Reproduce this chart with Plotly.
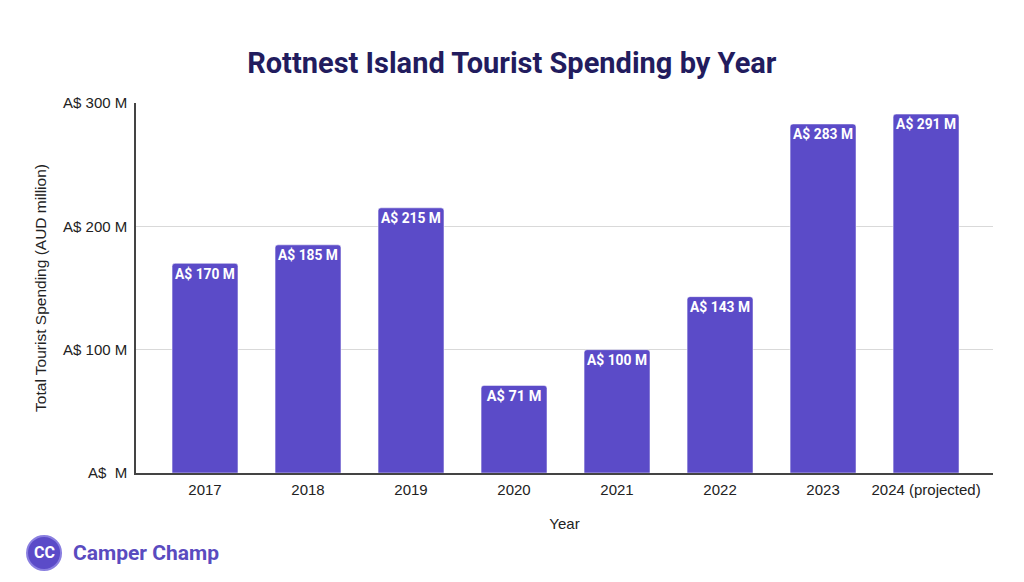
import plotly.graph_objects as go

# Data
years = ['2017', '2018', '2019', '2020', '2021', '2022', '2023', '2024 (projected)']
spending = [170, 185, 215, 71, 100, 143, 283, 291]
tick_vals = [0, 100, 200, 300]
tick_text = ['A$  M', 'A$ 100 M', 'A$ 200 M', 'A$ 300 M']

bar_color = '#5b4bc8'

fig = go.Figure()
fig.add_trace(go.Bar(
    x=years,
    y=spending,
    marker=dict(color=bar_color, cornerradius=3),
    text=[f'A$ {v} M' for v in spending],
    textposition='inside',
    insidetextanchor='end',
    textangle=0,
    textfont=dict(family='Roboto', size=14.5, color='white', weight='bold'),
    cliponaxis=False,
))

# page has an 8px body margin, so margins are shifted to compensate
fig.update_layout(
    width=1024,
    height=582,
    template='plotly_white',
    plot_bgcolor='white',
    paper_bgcolor='white',
    margin=dict(l=128, r=39, t=95, b=117, autoexpand=False),
    bargap=0.36,
    showlegend=False,
    title=dict(
        text='<b>Rottnest Island Tourist Spending by Year</b>',
        x=0.492, xanchor='center', xref='container', y=0.906, yanchor='middle',
        font=dict(family='Roboto', size=29, color='#221c5e'),
    ),
    font=dict(family='Liberation Sans, Arial', size=15, color='#222222'),
)

fig.update_xaxes(
    title=dict(text='Year', font=dict(size=15), standoff=22),
    range=[-0.67, 7.65],
    showline=True, linecolor='#444444', linewidth=1.5,
    showgrid=False, ticks='outside', ticklen=2, tickcolor='rgba(0,0,0,0)',
    tickfont=dict(size=15),
)
fig.update_yaxes(
    title=dict(text='Total Tourist Spending (AUD million)', font=dict(size=15.5), standoff=13),
    range=[0, 300],
    tickvals=tick_vals, ticktext=tick_text,
    showline=True, linecolor='#444444', linewidth=1.5,
    showgrid=True, gridcolor='#d9d9d9', gridwidth=1,
    zeroline=False, ticks='outside', ticklen=4, tickcolor='rgba(0,0,0,0)',
    tickfont=dict(size=15),
)

# Brand logo
logo_x = -0.1073
logo_y = -0.216
fig.add_shape(type='circle', xref='paper', yref='paper',
              xsizemode='pixel', ysizemode='pixel',
              xanchor=logo_x, yanchor=logo_y,
              x0=-17, x1=17, y0=-17, y1=17,
              fillcolor=bar_color, line=dict(color='#8a7fe0', width=2))
fig.add_annotation(text='<b>CC</b>', xref='paper', yref='paper',
                   x=logo_x, y=logo_y, xanchor='center', yanchor='middle',
                   showarrow=False,
                   font=dict(family='Roboto', size=16, color='white'))
fig.add_annotation(text='<b>Camper Champ</b>', xref='paper', yref='paper',
                   x=logo_x + 0.0315, y=logo_y, xanchor='left', yanchor='middle',
                   showarrow=False,
                   font=dict(family='Roboto', size=21, color='#5a4bbf'))

fig.write_html('out.html')
